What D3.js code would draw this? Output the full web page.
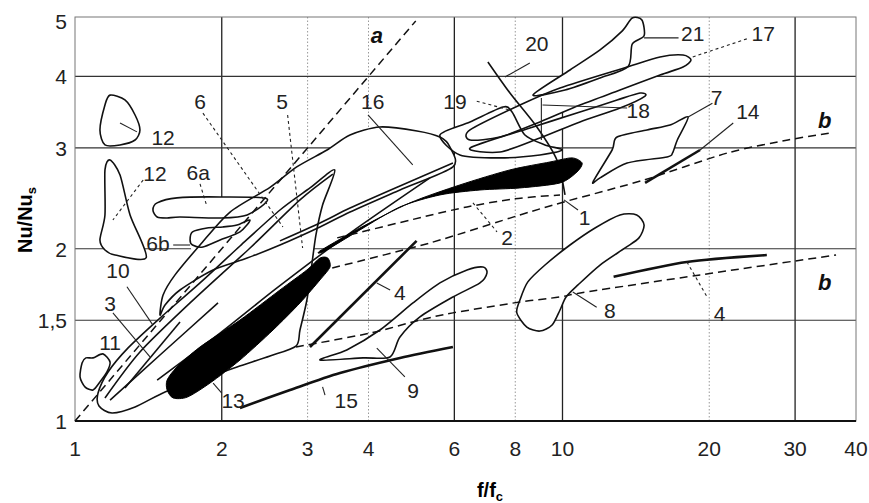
<!DOCTYPE html>
<html><head><meta charset="utf-8">
<script src="https://cdn.jsdelivr.net/npm/d3@7"></script>
<style>body{margin:0;background:#fff}</style>
</head><body><script>
// axes
const xTicks = [1, 2, 3, 4, 6, 8, 10, 20, 30, 40];
const yTicks = [1, 1.5, 2, 3, 4, 5];
const yTickText = ["1", "1,5", "2", "3", "4", "5"];
const xMajorGrid = [2, 6, 10, 30];
const xMinorGrid = [3, 4, 8, 20];
const yGrid = [1.5, 2, 3, 4];

// regions, [f/fc, Nu/Nus]
const shape12a = [[1.18,3.71],[1.152,3.565],[1.125,3.225],[1.152,3.036],[1.237,3.036],[1.328,3.097],[1.359,3.225],[1.328,3.425],[1.266,3.638]];
const shape12b = [[1.18,2.858],[1.152,2.746],[1.152,2.291],[1.125,2.072],[1.152,1.99],[1.208,1.95],[1.40,1.93],[1.297,2.291],[1.237,2.691]];
const shape11 = [[1.034,1.263],[1.024,1.194],[1.048,1.147],[1.089,1.133],[1.125,1.17],[1.163,1.218],[1.18,1.268],[1.141,1.31],[1.089,1.289],[1.053,1.289]];
const shape10 = [[3.41,2.746],[3.22,2.385],[3.12,2.113],[3.06,1.873],[2.99,1.627],[2.894,1.442],[2.84,1.352],[2.512,1.299],[2.15,1.243],[1.805,1.179],[1.53,1.124],[1.328,1.058],[1.191,1.033],[1.12,1.062],[1.115,1.119],[1.169,1.218],[1.285,1.342],[1.494,1.513],[1.805,1.743],[2.18,2.022],[2.633,2.337],[3.034,2.554]];
const shape6 = [[1.445,2.337],[2.477,2.444],[2.894,2.533],[2.18,2.022],[1.805,1.743],[1.722,2.03],[1.445,2.272]];
const shape16 = [[1.494,1.532],[1.516,1.66],[1.604,1.8],[1.805,2.03],[2.08,2.318],[2.512,2.559],[2.85,2.779],[3.288,2.975],[3.665,3.16],[4.222,3.264],[5.03,3.212],[5.605,3.134],[5.876,3.011],[5.96,2.779],[4.641,2.533],[3.665,2.318],[3.181,2.183],[2.633,2.03],[2.255,1.926],[1.919,1.836],[1.642,1.694],[1.53,1.595]];
const shape9 = [[3.181,1.278],[3.61,1.331],[4.222,1.442],[4.935,1.608],[5.605,1.743],[6.37,1.836],[6.87,1.858],[7.0,1.815],[6.772,1.743],[5.96,1.647],[5.1,1.52],[4.641,1.402],[4.427,1.294],[3.9,1.289]];
const shape8 = [[8.179,1.627],[8.06,1.545],[8.45,1.459],[8.988,1.436],[9.52,1.471],[9.883,1.563],[10.17,1.647],[10.76,1.729],[11.94,1.873],[13.44,2.006],[14.35,2.089],[14.7,2.2],[14.2,2.291],[13.12,2.291],[11.66,2.174],[10.36,2.03],[9.207,1.873],[8.49,1.75]];
const shape7 = [[11.55,2.616],[12.64,2.975],[12.94,3.134],[14.9,3.225],[16.62,3.29],[18.1,3.398],[17.2,3.097],[16.82,2.94],[16.39,2.893],[13.57,2.823],[11.94,2.659]];
const shape21 = [[8.7,3.711],[10.36,4.104],[11.94,4.449],[13.25,4.8],[13.9,5.06],[14.55,5.019],[14.7,4.71],[13.9,4.556],[13.63,4.16],[11.94,3.975],[10.12,3.787]];
const shape17 = [[6.461,3.225],[8.179,3.565],[9.883,3.818],[13.57,4.154],[15.85,4.326],[17.67,4.36],[18.35,4.273],[17.67,4.154],[15.85,4.022],[13.12,3.787],[10.86,3.565],[8.988,3.33],[7.443,3.134],[6.461,3.097]];
const shape19 = [[5.605,3.16],[6.461,3.33],[7.55,3.537],[7.88,3.466],[8.374,3.16],[9.207,3.036],[9.98,2.975],[8.988,2.916],[7.443,2.882],[6.16,2.916]];
const shape18 = [[6.461,2.999],[8.574,3.251],[10.86,3.466],[12.94,3.638],[14.42,3.741],[14.77,3.696],[13.12,3.522],[10.86,3.33],[8.988,3.122],[7.443,2.951]];
const shape6a = [[1.445,2.337],[1.474,2.405],[1.619,2.454],[1.984,2.463],[2.477,2.444],[2.255,2.291],[1.984,2.263],[1.642,2.272],[1.545,2.263],[1.474,2.272]];
const shape6b = [[1.722,2.072],[1.742,2.14],[1.866,2.174],[2.01,2.183],[2.149,2.2],[2.286,2.245],[2.18,2.14],[1.984,2.072],[1.83,2.014],[1.742,2.03]];

// solid black regions
const blob1 = [[3.181,1.982],[3.842,2.174],[4.865,2.405],[6.16,2.585],[7.802,2.746],[9.427,2.835],[10.46,2.882],[10.97,2.823],[10.71,2.724],[9.883,2.606],[8.179,2.554],[6.772,2.533],[5.605,2.483],[4.641,2.366],[3.842,2.157],[3.257,1.982]];
const blob13 = [[1.545,1.133],[1.59,1.097],[1.70,1.101],[1.892,1.165],[2.18,1.278],[2.548,1.442],[2.894,1.608],[3.181,1.764],[3.335,1.858],[3.30,1.926],[3.181,1.926],[2.99,1.836],[2.633,1.694],[2.18,1.501],[1.805,1.347],[1.619,1.243],[1.545,1.179]];

// curves
const line3a = [[1.152,1.097],[1.359,1.32],[1.722,1.608],[2.286,2.006],[2.894,2.434],[3.38,2.70]];
const line3b = [[1.18,1.088],[1.494,1.304],[1.965,1.608]];
const line3c = [[1.266,1.142],[1.642,1.489]];
const tail1 = [[1.474,1.179],[1.984,1.424],[2.596,1.708],[3.665,2.13],[5.347,2.66]];
const edge16 = [[5.96,2.823],[4.641,2.575],[3.665,2.356],[3.181,2.218],[2.633,2.064]];
const line15 = [[2.18,1.054],[2.761,1.133],[3.496,1.213],[4.641,1.289],[5.96,1.347]];
const line4a = [[3.034,1.347],[5.02,2.064]];
const line4b = [[12.73,1.786],[17.99,1.896],[26.25,1.95]];
const line14 = [[14.77,2.606],[19.15,2.975]];
const line20 = [[7.03,4.239],[7.802,3.741],[8.86,3.264],[9.74,2.858],[10.12,2.483]];
const lineA = [[1,1],[5,5]];
const lineBLow = [[2.84,1.347],[4.028,1.424],[5.1,1.501],[5.96,1.545],[8.179,1.614],[9.883,1.647],[11.22,1.681],[19.15,1.8],[36.4,1.95]];
const lineBUp = [[3.37,1.851],[5.347,2.047],[8.179,2.291],[10.07,2.414],[14.7,2.637],[21.8,2.94],[29.0,3.097],[35.38,3.186]];
const edge2 = [[3.45,2.089],[5.17,2.272],[6.37,2.366],[7.95,2.444],[9.883,2.483]];

// leader lines
const leadersSolid = [
  [[1.237,3.317],[1.34,3.2]], [[1.59,2.03],[1.722,2.03]], [[3.99,3.425],[4.93,2.801]],
  [[8.57,4.22],[7.62,3.99]], [[14.7,4.67],[17.3,4.67]], [[9.1,3.565],[13.57,3.522]],
  [[9.05,3.667],[9.05,3.097]], [[18.1,3.398],[20.3,3.59]], [[19.15,2.975],[22.4,3.317]],
  [[10.07,2.434],[10.76,2.337]], [[4.16,1.743],[4.43,1.694]], [[10.5,1.68],[11.75,1.58]],
  [[4.16,1.341],[4.75,1.194]], [[3.22,1.147],[3.257,1.11]], [[1.92,1.165],[2.0,1.119]],
  [[1.278,1.716],[1.445,1.471]], [[1.196,1.545],[1.425,1.294]]
];
const leadersDashed = [
  [[1.38,2.637],[1.196,2.245]], [[1.83,3.45],[2.67,2.183]], [[1.805,2.596],[1.866,2.366]],
  [[2.73,3.425],[2.93,2.006]], [[6.67,3.62],[7.8,3.494]], [[18.5,4.326],[24.2,4.67]],
  [[6.55,2.405],[7.34,2.14]], [[18.0,1.896],[19.8,1.647]]
];

// labels
const labels = [
  ["12",1.516,3.134],["12",1.459,2.713],["6",1.805,3.62],["6a",1.79,2.724],["6b",1.48,2.047],
  ["5",2.66,3.62],["16",4.08,3.62],["19",6.02,3.62],["20",8.86,4.58],["21",18.5,4.76],
  ["17",25.8,4.76],["18",14.3,3.494],["7",20.7,3.675],["14",24.0,3.48],["1",11.1,2.272],
  ["2",7.7,2.1],["4",4.64,1.68],["4",21.0,1.545],["8",12.5,1.563],["9",4.94,1.133],
  ["15",3.6,1.088],["13",2.11,1.088],["11",1.18,1.374],["10",1.225,1.836],["3",1.18,1.61]
];
const italicLabels = [["a",4.16,4.73],["b",34.5,3.357],["b",34.5,1.75]];

const W = 869, H = 503;
const x = d3.scaleLog().domain([1, 40]).range([75, 856]);
const y = d3.scaleLog().domain([1, 5.08]).range([421, 17]);
const font = "'Liberation Sans', Arial, sans-serif";

const svg = d3.select("body").append("svg").attr("width", W).attr("height", H)
  .style("font-family", font);

// grid
svg.append("g").selectAll("line").data(xMinorGrid).join("line")
  .attr("x1", d => x(d)).attr("x2", d => x(d)).attr("y1", y(1)).attr("y2", y(5.08))
  .attr("stroke", "#999").attr("stroke-width", 1).attr("stroke-dasharray", "1.5,2");
svg.append("g").selectAll("line").data(xMajorGrid).join("line")
  .attr("x1", d => x(d)).attr("x2", d => x(d)).attr("y1", y(1)).attr("y2", y(5.08))
  .attr("stroke", "#222").attr("stroke-width", 1.3);
svg.append("g").selectAll("line").data(yGrid).join("line")
  .attr("x1", x(1)).attr("x2", x(40)).attr("y1", d => y(d)).attr("y2", d => y(d))
  .attr("stroke", "#333").attr("stroke-width", 1.1);

// frame
svg.append("rect").attr("x", x(1)).attr("y", y(5.08))
  .attr("width", x(40) - x(1)).attr("height", y(1) - y(5.08))
  .attr("fill", "none").attr("stroke", "#777").attr("stroke-width", 1);
svg.append("line").attr("x1", x(1)).attr("x2", x(40)).attr("y1", y(1)).attr("y2", y(1))
  .attr("stroke", "#111").attr("stroke-width", 2);

// tick labels
svg.append("g").selectAll("text").data(xTicks).join("text")
  .attr("x", d => x(d)).attr("y", y(1) + 35).attr("text-anchor", "middle")
  .attr("font-size", 21).attr("fill", "#222").text(d => d);
svg.append("g").selectAll("text").data(yTicks).join("text")
  .attr("x", 67).attr("y", d => y(d) + 8).attr("text-anchor", "end")
  .attr("font-size", 21).attr("fill", "#222").text((d, i) => yTickText[i]);

// axis titles
const xt = svg.append("text").attr("x", 490).attr("y", 497).attr("text-anchor", "middle")
  .attr("font-size", 20).attr("font-weight", "bold");
xt.append("tspan").text("f/f");
xt.append("tspan").attr("font-size", 13).attr("dy", 4).text("c");
const yt = svg.append("text").attr("transform", "translate(32,220) rotate(-90)")
  .attr("text-anchor", "middle").attr("font-size", 20).attr("font-weight", "bold");
yt.append("tspan").text("Nu/Nu");
yt.append("tspan").attr("font-size", 13).attr("dy", 4).text("s");

const closed = d3.line().x(d => x(d[0])).y(d => y(d[1])).curve(d3.curveCardinalClosed.tension(0.2));
const open = d3.line().x(d => x(d[0])).y(d => y(d[1])).curve(d3.curveCardinal.tension(0.2));
const straight = d3.line().x(d => x(d[0])).y(d => y(d[1]));

const regions = [shape16, shape10, shape12a, shape12b, shape11, shape9, shape8, shape7,
  shape21, shape17, shape19, shape18, shape6a, shape6b];

// white fills hide the grid, then all outlines on top
svg.append("path").attr("d", straight(shape6) + "Z").attr("fill", "#fff");
svg.append("g").selectAll("path").data(regions).join("path")
  .attr("d", closed).attr("fill", "#fff").attr("stroke", "none");
svg.append("g").selectAll("path").data(regions).join("path")
  .attr("d", closed).attr("fill", "none").attr("stroke", "#111").attr("stroke-width", 1.6);

// inner curves
svg.append("g").selectAll("path").data([line3a, line3b, line3c, tail1, edge16, line20]).join("path")
  .attr("d", open).attr("fill", "none").attr("stroke", "#111").attr("stroke-width", 1.6);
svg.append("g").selectAll("path").data([line15, line4a, line4b, line14]).join("path")
  .attr("d", open).attr("fill", "none").attr("stroke", "#111").attr("stroke-width", 2.6);

// black regions
svg.append("g").selectAll("path").data([blob1, blob13]).join("path")
  .attr("d", closed).attr("fill", "#000").attr("stroke", "#000").attr("stroke-width", 1);

// dashed reference lines
svg.append("g").selectAll("path").data([lineA, lineBLow, lineBUp, edge2]).join("path")
  .attr("d", open).attr("fill", "none").attr("stroke", "#111").attr("stroke-width", 1.5)
  .attr("stroke-dasharray", "8,5");

// leaders
svg.append("g").selectAll("path").data(leadersSolid).join("path")
  .attr("d", straight).attr("fill", "none").attr("stroke", "#222").attr("stroke-width", 1.1);
svg.append("g").selectAll("path").data(leadersDashed).join("path")
  .attr("d", straight).attr("fill", "none").attr("stroke", "#222").attr("stroke-width", 1.1)
  .attr("stroke-dasharray", "3,3");

// labels
svg.append("g").selectAll("text").data(labels).join("text")
  .attr("x", d => x(d[1])).attr("y", d => y(d[2]) + 8).attr("text-anchor", "middle")
  .attr("font-size", 21).attr("fill", "#222").text(d => d[0]);
svg.append("g").selectAll("text").data(italicLabels).join("text")
  .attr("x", d => x(d[1])).attr("y", d => y(d[2]) + 8).attr("text-anchor", "middle")
  .attr("font-size", 22).attr("font-weight", "bold").attr("font-style", "italic")
  .attr("fill", "#111").text(d => d[0]);
</script></body></html>
